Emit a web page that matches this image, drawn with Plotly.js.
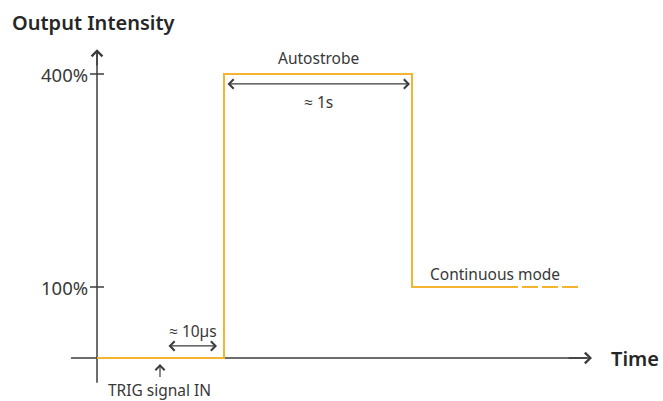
<!DOCTYPE html>
<html>
<head>
<meta charset="utf-8">
<script src="https://cdn.plot.ly/plotly-3.0.1.min.js"></script>
<style>html,body{margin:0;padding:0;background:#fff;}#chart{width:663px;height:401px;}</style>
</head>
<body>
<div id="chart"></div>
<script>
// Schematic time units (arbitrary) and intensity in %
const signalTime = [0, 127, 127, 315, 315, 421];
const signalIntensity = [0, 0, 400, 400, 100, 100];
const continuedTime = [425, 481];
const continuedIntensity = [100, 100];
const tickVals = [100, 400];
const tickText = ['100%', '400%'];
const trigTime = 63;
const riseTime = 127;
const fallTime = 315;

const ORANGE = '#F5B430';
const AXIS = '#3c3c3c';
const TEXT = '#383838';
const FONT = 'Noto Sans, Open Sans, sans-serif';

const traces = [
  {x: signalTime, y: signalIntensity, mode: 'lines', line: {color: ORANGE, width: 2}, hoverinfo: 'skip', showlegend: false},
  {x: continuedTime, y: continuedIntensity, mode: 'lines', line: {color: ORANGE, width: 2, dash: '16px,4px'}, hoverinfo: 'skip', showlegend: false}
];

const shapes = [
  {type: 'line', layer: 'below', x0: -26, x1: 490, y0: 0, y1: 0, line: {color: AXIS, width: 1.5}},
  {type: 'line', layer: 'below', x0: 0, x1: 0, y0: -35, y1: 430, line: {color: AXIS, width: 1.5}}
];
tickVals.forEach(v => shapes.push({type: 'line', layer: 'below', x0: -7, x1: 7, y0: v, y1: v, line: {color: AXIS, width: 1.5}}));

function arrow(x, y, ax, ay, both, w, s) {
  return {x: x, y: y, ax: ax, ay: ay, xref: 'x', yref: 'y', axref: 'x', ayref: 'y', text: '', showarrow: true,
    arrowhead: 4, startarrowhead: 4, arrowsize: s || 1.4, startarrowsize: s || 1.4, arrowwidth: w || 1.5, arrowcolor: AXIS,
    arrowside: both ? 'end+start' : 'end'};
}
function label(text, x, y, size, anchor, weight, color) {
  return {x: x, y: y, xref: 'x', yref: 'y', text: text, showarrow: false, xanchor: anchor || 'center', yanchor: 'middle',
    borderpad: 0, font: {family: FONT, size: size, color: color || TEXT, weight: weight || 400}};
}

const annotations = [
  arrow(495, 0, 470, 0, false),
  arrow(0, 435, 0, 410, false),
  arrow(fallTime - 2, 386, riseTime + 2, 386, true, 1.3),
  arrow(riseTime - 7, 17, trigTime + 7, 17, true, 1.3),
  arrow(trigTime, -8.5, trigTime, -29, false, 1.2, 1.5),
  label('Autostrobe', (riseTime + fallTime) / 2, 423, 15.5),
  label('≈ 1s', (riseTime + fallTime) / 2, 361, 15.5),
  label('≈ 10µs', 96, 38, 15.5),
  label('TRIG signal IN', trigTime - 1, -45, 15.5),
  label('Continuous mode', 398, 118, 15.5),
  label('Time', 513, 0, 20, 'left', 600, '#262626'),
  {x: 10 / 663, y: 1 - 22 / 401, xref: 'paper', yref: 'paper', text: 'Output Intensity', showarrow: false, xanchor: 'left', yanchor: 'middle',
    font: {family: FONT, size: 20, color: '#262626', weight: 600}}
];
tickVals.forEach((v, i) => annotations.push(label(tickText[i], -8, v, 18.5, 'right')));

const layout = {
  width: 663, height: 401,
  margin: {l: 0, r: 0, t: 0, b: 0},
  paper_bgcolor: '#fff', plot_bgcolor: '#fff',
  xaxis: {range: [-97, 566], visible: false, fixedrange: true},
  yaxis: {range: [-60.56, 504.23], visible: false, fixedrange: true},
  shapes: shapes,
  annotations: annotations,
  showlegend: false
};

Plotly.newPlot('chart', traces, layout, {staticPlot: true, displayModeBar: false});
</script>
</body>
</html>
